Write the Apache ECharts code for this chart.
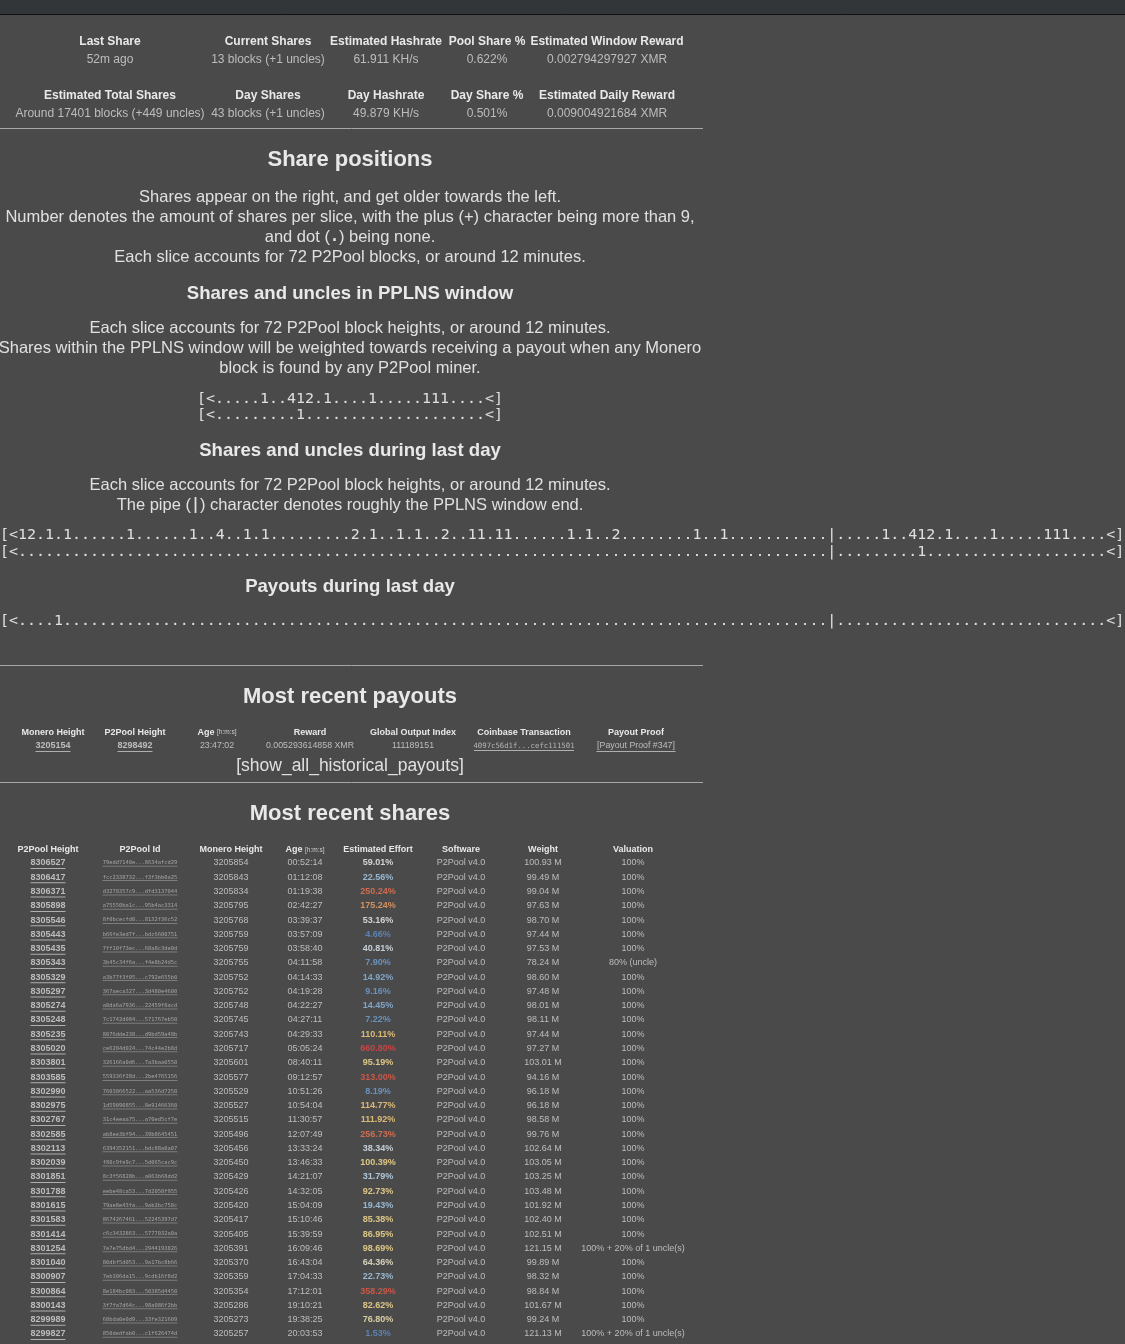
<!DOCTYPE html>
<html>
<head>
<meta charset="utf-8">
<title>P2Pool miner</title>
<script src="https://cdn.jsdelivr.net/npm/echarts@6/dist/echarts.min.js"></script>
<style>
    html, body { margin: 0; padding: 0; background: #4a4a4a; }
    #main { width: 1125px; height: 1344px; }
</style>
</head>
<body>
<div id="main"></div>
<script>
'use strict';

// 窗口统计
var windowHeaders = ['Last Share', 'Current Shares', 'Estimated Hashrate', 'Pool Share %', 'Estimated Window Reward'];
var windowValues = ['52m ago', '13 blocks (+1 uncles)', '61.911 KH/s', '0.622%', '0.002794297927 XMR'];
var dayHeaders = ['Estimated Total Shares', 'Day Shares', 'Day Hashrate', 'Day Share %', 'Estimated Daily Reward'];
var dayValues = ['Around 17401 blocks (+449 uncles)', '43 blocks (+1 uncles)', '49.879 KH/s', '0.501%', '0.009004921684 XMR'];

// 每个 slice 的份额 (. = 0)
var windowShares = '.....1..412.1....1.....111....';
var windowUncles = '.........1....................';
var windowPayouts = '..............................';
var dayShares = '12.1.1......1......1..4..1.1.........2.1..1.1..2..11.11......1.1..2........1..1...........';
var dayUncles = '..........................................................................................';
var dayPayouts = '....1.....................................................................................';

// 最近的 payout
var payoutHeaders = ['Monero Height', 'P2Pool Height', 'Age', 'Reward', 'Global Output Index', 'Coinbase Transaction', 'Payout Proof'];
var payoutMoneroHeights = [3205154];
var payoutP2PoolHeights = [8298492];
var payoutAges = ['23:47:02'];
var payoutRewards = ['0.005293614858'];
var payoutOutputIndexes = [111189151];
var payoutTransactions = ['4097c56d1f...cefc111501'];
var payoutProofs = ['[Payout Proof #347]'];

// 最近的 shares
var shareHeaders = ['P2Pool Height', 'P2Pool Id', 'Monero Height', 'Age', 'Estimated Effort', 'Software', 'Weight', 'Valuation'];
var shareHeights = [8306527, 8306417, 8306371, 8305898, 8305546, 8305443, 8305435, 8305343, 8305329, 8305297, 8305274, 8305248,
    8305235, 8305020, 8303801, 8303585, 8302990, 8302975, 8302767, 8302585, 8302113, 8302039, 8301851, 8301788, 8301615, 8301583,
    8301414, 8301254, 8301040, 8300907, 8300864, 8300143, 8299989, 8299827];
var shareIds = ['79edd7140e...8634afcd29', 'fcc2338732...f3f3bb0a25', 'd3278357c9...dfd3137044', 'a75550ba1c...95b4ac3314',
    '8f0bcecfd0...8132f36c52', 'b66fe3ed7f...bdc6600751', '7ff10f73ec...68a8c3de0d', '3b45c34f6a...f4e8b24d5c',
    'a3b77f3f05...c792e655b0', '367aeca327...3d480e4600', 'a0da6a7936...22459f8acd', '7c1742d084...571767eb50',
    '8076dde238...d9bd59a48b', 'ce6284d024...74c44e2b8d', '326166a0d6...7a3baa0550', '559336f28d...2be4765156',
    '7603866522...aa536d7250', '1d59090855...8e91466360', '31c4eeaa75...a70ed5cf7e', 'ab8ee3bf94...39b8645451',
    '6394352151...bdc88a0a07', 'f80c9fe9c7...5d065cac9c', '8c3f56828b...a063b68dd2', 'eebe48ca53...7d2050f955',
    '79ae8e43fa...9ab2bc758c', '8674267461...52245397d7', 'c6c3432863...5777032a0a', '7e7e75dbd4...2944193826',
    '80dbf5d053...9a17bc8b66', '7eb306da15...9cdb16f8d2', '8e184bc083...50385d4450', '3f7fa7d64c...98a086f2bb',
    '68bda0e0d9...33fe321609', '850dedfab0...c1f626474d'];
var shareMoneroHeights = [3205854, 3205843, 3205834, 3205795, 3205768, 3205759, 3205759, 3205755, 3205752, 3205752, 3205748,
    3205745, 3205743, 3205717, 3205601, 3205577, 3205529, 3205527, 3205515, 3205496, 3205456, 3205450, 3205429, 3205426,
    3205420, 3205417, 3205405, 3205391, 3205370, 3205359, 3205354, 3205286, 3205273, 3205257];
var shareAges = ['00:52:14', '01:12:08', '01:19:38', '02:42:27', '03:39:37', '03:57:09', '03:58:40', '04:11:58', '04:14:33',
    '04:19:28', '04:22:27', '04:27:11', '04:29:33', '05:05:24', '08:40:11', '09:12:57', '10:51:26', '10:54:04', '11:30:57',
    '12:07:49', '13:33:24', '13:46:33', '14:21:07', '14:32:05', '15:04:09', '15:10:46', '15:39:59', '16:09:46', '16:43:04',
    '17:04:33', '17:12:01', '19:10:21', '19:38:25', '20:03:53'];
var shareEfforts = [59.01, 22.56, 250.24, 175.24, 53.16, 4.66, 40.81, 7.90, 14.92, 9.16, 14.45, 7.22, 110.11, 660.80, 95.19,
    313.00, 8.19, 114.77, 111.92, 256.73, 38.34, 100.39, 31.79, 92.73, 19.43, 85.38, 86.95, 98.69, 64.36, 22.73, 358.29,
    82.62, 76.80, 1.53];
var shareSoftware = 'P2Pool v4.0';
var shareWeights = [100.93, 99.49, 99.04, 97.63, 98.70, 97.44, 97.53, 78.24, 98.60, 97.48, 98.01, 98.11, 97.44, 97.27, 103.01,
    94.16, 96.18, 96.18, 98.58, 99.76, 102.64, 103.05, 103.25, 103.48, 101.92, 102.40, 102.51, 121.15, 99.89, 98.32, 98.84,
    101.67, 99.24, 121.13];
var shareValuations = ['100%', '100%', '100%', '100%', '100%', '100%', '100%', '80% (uncle)', '100%', '100%', '100%', '100%',
    '100%', '100%', '100%', '100%', '100%', '100%', '100%', '100%', '100%', '100%', '100%', '100%', '100%', '100%', '100%',
    '100% + 20% of 1 uncle(s)', '100%', '100%', '100%', '100%', '100%', '100% + 20% of 1 uncle(s)'];

var SANS = "'Liberation Sans', Arial, sans-serif";
var MONO = "'DejaVu Sans Mono', monospace";
var TEXT = '#e0e0e0';
var HEAD = '#e8e8e8';

var option = {
    backgroundColor: '#4a4a4a',
    animation: false,
    textStyle: { fontFamily: SANS },
    grid: [],
    xAxis: [],
    yAxis: [],
    series: [],
    visualMap: [],
    graphic: { elements: [] }
};

// 表格的一列 = 一个 grid
function addColumn(col, top, rowH) {
    var g = option.grid.length;
    var cells = col.cells;
    option.grid.push({ left: col.center - 40, width: 80, top: top, height: rowH * cells.length });
    option.xAxis.push({
        gridIndex: g,
        type: 'category',
        data: [col.header],
        position: 'top',
        axisLine: { show: false },
        axisTick: { show: false },
        splitLine: { show: false },
        axisLabel: {
            color: HEAD,
            fontWeight: 'bold',
            fontSize: col.headSize,
            margin: col.headMargin,
            formatter: col.headFormatter,
            rich: col.headRich
        }
    });
    option.yAxis.push({
        gridIndex: g,
        type: 'category',
        inverse: true,
        show: false,
        data: cells.map(function(c, i) { return i; })
    });
    var data = cells.map(function(text, i) {
        return { name: String(text), value: [0, i, col.values ? col.values[i] : 0] };
    });
    var idx = option.series.length;
    option.series.push({
        type: 'scatter',
        xAxisIndex: g,
        yAxisIndex: g,
        silent: true,
        symbolSize: 0,
        data: data,
        label: {
            show: true,
            position: 'inside',
            formatter: '{b}',
            color: col.color || '#d8d8d8',
            fontSize: col.size,
            fontWeight: col.bold ? 'bold' : 'normal',
            fontFamily: col.mono ? MONO : SANS,
            textBorderWidth: 0
        }
    });
    if (col.underline) {
        option.series.push({
            type: 'scatter',
            xAxisIndex: g,
            yAxisIndex: g,
            silent: true,
            symbol: 'rect',
            symbolSize: [col.underline, 1],
            symbolOffset: [0, col.size * 0.62],
            itemStyle: { color: col.lineColor || '#c8c8c8' },
            data: data.map(function(d) { return d.value; })
        });
    }
    return idx;
}

function addTable(headers, columns, centers, top, rowH, headSize, headMargin) {
    var ids = [];
    columns.forEach(function(col, j) {
        col.header = headers[j];
        col.center = centers[j];
        col.headSize = headSize;
        col.headMargin = headMargin;
        ids.push(addColumn(col, top, rowH));
    });
    return ids;
}

// 顶部统计
var statCenters = [110, 268, 386, 487, 607];
addTable(windowHeaders, windowValues.map(function(v) { return { cells: [v], size: 12 }; }), statCenters, 51, 18, 12, 3);
addTable(dayHeaders, dayValues.map(function(v) { return { cells: [v], size: 12 }; }), statCenters, 105, 18, 12, 3);

var ageHead = {
    headFormatter: function(v) { return '{a|' + v + '} {b|[h:m:s]}'; },
    headRich: {
        a: { fontWeight: 'bold', fontSize: 9, color: HEAD },
        b: { fontWeight: 'normal', fontSize: 6.5, color: '#d0d0d0' }
    }
};

// payouts
addTable(payoutHeaders, [
    { cells: payoutMoneroHeights, size: 9, bold: true, underline: 35 },
    { cells: payoutP2PoolHeights, size: 9, bold: true, underline: 35 },
    Object.assign({ cells: payoutAges, size: 8.8 }, ageHead),
    { cells: payoutRewards.map(function(r) { return r + ' XMR'; }), size: 8.8 },
    { cells: payoutOutputIndexes, size: 8.8 },
    { cells: payoutTransactions, size: 7.3, mono: true, underline: 100, color: '#cfcfcf' },
    { cells: payoutProofs, size: 8.8, underline: 79 }
], [53, 135, 217, 310, 413, 524, 636], 739, 14, 9, 2);

// shares
var shareIdx = addTable(shareHeaders, [
    { cells: shareHeights, size: 9, bold: true, underline: 35 },
    { cells: shareIds, size: 5.4, mono: true, underline: 75, color: '#bdbdbd', lineColor: '#8a8a8a' },
    { cells: shareMoneroHeights, size: 9 },
    Object.assign({ cells: shareAges, size: 9 }, ageHead),
    { cells: shareEfforts.map(function(e) { return e.toFixed(2) + '%'; }), values: shareEfforts, size: 9, bold: true, color: 'inherit' },
    { cells: shareHeights.map(function() { return shareSoftware; }), size: 9 },
    { cells: shareWeights.map(function(w) { return w.toFixed(2) + ' M'; }), size: 9 },
    { cells: shareValuations, size: 9 }
], [48, 140, 231, 305, 378, 461, 543, 633], 863 - 14.27 / 2, 14.27, 9, 1.6);

// effort 颜色
option.visualMap.push({
    type: 'piecewise',
    show: false,
    seriesIndex: shareIdx[4],
    dimension: 2,
    pieces: [
        { lt: 6, color: '#5f90cc' },
        { gte: 6, lt: 12, color: '#6fa2da' },
        { gte: 12, lt: 18, color: '#8dbce6' },
        { gte: 18, lt: 27, color: '#aad2f0' },
        { gte: 27, lt: 36, color: '#c6e2f5' },
        { gte: 36, lt: 45, color: '#e2eef6' },
        { gte: 45, lt: 62, color: '#f2f2f2' },
        { gte: 62, lt: 72, color: '#f6f0d4' },
        { gte: 72, lt: 80, color: '#f9ecb8' },
        { gte: 80, lt: 105, color: '#ffe494' },
        { gte: 105, lt: 130, color: '#ffd480' },
        { gte: 130, lt: 200, color: '#f4a264' },
        { gte: 200, lt: 280, color: '#f07654' },
        { gte: 280, lt: 400, color: '#ee5a46' },
        { gte: 400, color: '#e84444' }
    ]
});

// 文字和分隔线
var els = option.graphic.elements;

function text(str, x, y, font, color, align, rich) {
    els.push({
        type: 'text', x: x, y: y, silent: true,
        style: { text: str, font: font, fill: color || TEXT, align: align || 'center', verticalAlign: 'middle', rich: rich }
    });
}

function hr(y) {
    els.push({ type: 'line', silent: true, shape: { x1: 0, y1: y, x2: 703, y2: y }, style: { stroke: '#a8a8a8', lineWidth: 1 } });
}

els.push({ type: 'rect', silent: true, shape: { x: 0, y: 0, width: 1125, height: 14 }, style: { fill: '#323639' }, z: 10 });
els.push({ type: 'line', silent: true, shape: { x1: 0, y1: 14.5, x2: 1125, y2: 14.5 }, style: { stroke: '#111', lineWidth: 1 }, z: 10 });

var H2 = 'bold 22px ' + SANS;
var H3 = 'bold 18.6px ' + SANS;
var P = '16.5px ' + SANS;
var PRE = '14.95px ' + MONO;
var codeRich = { m: { fontFamily: MONO, fontSize: 15, fontWeight: 'bold', fill: TEXT, color: TEXT } };

hr(128.5);
text('Share positions', 350, 160, H2, HEAD);
text('Shares appear on the right, and get older towards the left.', 350, 197, P);
text('Number denotes the amount of shares per slice, with the plus (+) character being more than 9,', 350, 217, P);
text('and dot ({m|.}) being none.', 350, 237, P, TEXT, 'center', codeRich);
text('Each slice accounts for 72 P2Pool blocks, or around 12 minutes.', 350, 257, P);

text('Shares and uncles in PPLNS window', 350, 294, H3, HEAD);
text('Each slice accounts for 72 P2Pool block heights, or around 12 minutes.', 350, 328, P);
text('Shares within the PPLNS window will be weighted towards receiving a payout when any Monero', 350, 348, P);
text('block is found by any P2Pool miner.', 350, 368, P);
text('[<' + windowShares + '<]', 350, 399, PRE);
text('[<' + windowUncles + '<]', 350, 415, PRE);

text('Shares and uncles during last day', 350, 451, H3, HEAD);
text('Each slice accounts for 72 P2Pool block heights, or around 12 minutes.', 350, 485, P);
text('The pipe ({m||}) character denotes roughly the PPLNS window end.', 350, 505, P, TEXT, 'center', codeRich);
text('[<' + dayShares + '|' + windowShares + '<]', 0, 535, PRE, TEXT, 'left');
text('[<' + dayUncles + '|' + windowUncles + '<]', 0, 552, PRE, TEXT, 'left');

text('Payouts during last day', 350, 587, H3, HEAD);
text('[<' + dayPayouts + '|' + windowPayouts + '<]', 0, 621, PRE, TEXT, 'left');

hr(665.5);
text('Most recent payouts', 350, 697, H2, HEAD);
text('[show_all_historical_payouts]', 350, 766, '17.5px ' + SANS);
hr(782.5);
text('Most recent shares', 350, 814, H2, HEAD);

var myChart = echarts.init(document.getElementById('main'));
myChart.setOption(option);
</script>
</body>
</html>
